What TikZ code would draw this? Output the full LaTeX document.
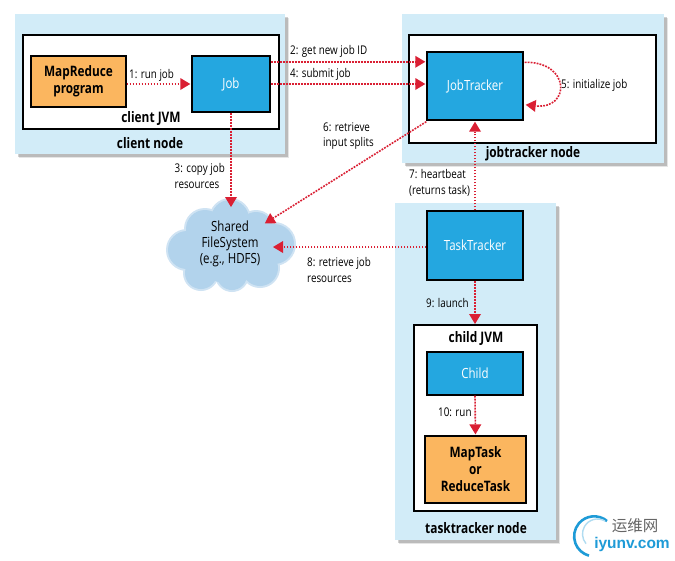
\documentclass[tikz,border=0pt]{standalone}
\usepackage{fontspec}
\setmainfont[FakeStretch=0.82]{Open Sans}
\newfontfamily\cjkfont{Noto Sans CJK SC}
\newfontfamily\logofont{Liberation Sans}
\usetikzlibrary{arrows.meta,calc}
\definecolor{nodebg}{HTML}{D2ECF8}
\definecolor{jvmblue}{HTML}{24A7E0}
\definecolor{progorange}{HTML}{FBB65F}
\definecolor{flowred}{HTML}{DA1F33}
\definecolor{cloudblue}{HTML}{B2D3EC}
\definecolor{cloudedge}{HTML}{CFE3F3}
\definecolor{logoblue}{HTML}{1E9BD7}
\tikzset{
  x=1pt,y=-1pt,
  whitebox/.style={draw=black,line width=1.4pt,fill=white},
  bluebox/.style={draw=black,line width=1.4pt,fill=jvmblue,text=white,font=\fontsize{14}{16}\selectfont,inner sep=0pt,align=center},
  orangebox/.style={draw=black,line width=1.2pt,fill=progorange,font=\fontsize{14.4}{17}\selectfont\bfseries,inner sep=0pt,align=center},
  title/.style={font=\fontsize{14.5}{16}\selectfont\bfseries,inner sep=0pt},
  lab/.style={font=\fontsize{12}{15.5}\selectfont,align=left,inner sep=0pt,anchor=west},
  flow/.style={draw=flowred,line width=1.6pt,dash pattern=on 1.8pt off 1.2pt,shorten >=1pt,
    -{Triangle[length=10pt,width=12pt,color=flowred,fill=flowred,line width=0pt,sep=0pt]}},
}
\newcommand{\shadowrect}[4]{%
  \fill[black,opacity=.10] (#1+4,#2+4) rectangle (#3+4,#4+4);
  \fill[black,opacity=.18] (#1+2.5,#2+2.5) rectangle (#3+2.5,#4+2.5);
  \fill[nodebg] (#1,#2) rectangle (#3,#4);}
\begin{document}
\begin{tikzpicture}
\useasboundingbox (0,0) rectangle (675,560);
\fill[white] (0,0) rectangle (675,560);
% node backgrounds
\shadowrect{15}{14}{285}{154}
\shadowrect{402}{14}{664}{163}
\shadowrect{395}{203}{556}{540}
% jvm frames
\draw[whitebox] (23,35) rectangle (279,129);
\draw[whitebox] (409,35) rectangle (656,143);
\draw[whitebox] (414,325) rectangle (537,511);
% cloud
\foreach \cx/\cy/\r in {230/219/21,205/229/21,187/250/21,201/273/18,232/275/17,260/268/20,274/244/22,256/229/19}
  \fill[cloudedge] (\cx,\cy) circle[radius=\r];
\foreach \cx/\cy/\r in {230/219/19,205/229/19,187/250/19,201/273/16,232/275/15,260/268/18,274/244/20,256/229/17}
  \fill[cloudblue] (\cx,\cy) circle[radius=\r];
\fill[cloudblue] (230,248) circle[radius=36];
% boxes
\node[orangebox,minimum width=95pt,minimum height=51pt] (prog) at (78.5,81.5) {MapReduce\\program};
\node[bluebox,minimum width=78pt,minimum height=56pt] (job) at (231,84) {Job};
\node[bluebox,minimum width=96pt,minimum height=68pt] (jt) at (475,86) {JobTracker};
\node[bluebox,minimum width=96pt,minimum height=69pt] (tt) at (475,245.5) {TaskTracker};
\node[bluebox,minimum width=96pt,minimum height=43pt] (child) at (475,373.5) {Child};
\node[orangebox,minimum width=101pt,minimum height=67pt] (task) at (475.5,469.5) {MapTask\\or\\ReduceTask};
\node[font=\fontsize{14}{16}\selectfont,align=center,inner sep=0pt] (fs) at (230,244) {Shared\\FileSystem\\(e.g., HDFS)};
% titles
\node[title] (t1) at (151,119) {client JVM};
\node[title] (t2) at (150,143) {client node};
\node[title] (t3) at (533,154) {jobtracker node};
\node[title] (t4) at (476,339) {child JVM};
\node[title] (t5) at (476,528) {tasktracker node};
% cloud anchor points
\coordinate (cloudtop) at (231,208);
\coordinate (cloudne) at (264,224);
\coordinate (cloudeast) at (272,247);
% connectors
\draw[flow] (prog.east |- job.center) -- (job.west);
\draw[flow] ([yshift=-6.5pt]job.north east) -- ([yshift=-10.5pt]jt.north west);
\draw[flow] (job.east) -- (jt.west |- job.east);
\draw[flow] (job.south) -- (cloudtop);
\draw[flow] ([yshift=-1pt]jt.south west) -- (cloudne);
\draw[flow] ([xshift=1pt,yshift=-11pt]jt.north east) .. controls +(46,-1) and +(46,5) .. ([xshift=1pt,yshift=16pt]jt.south east);
\draw[flow] (tt.north) -- (jt.south);
\draw[flow] (tt.west |- cloudeast) -- (cloudeast);
\draw[flow] (tt.south) -- (tt.south |- 0,325);
\draw[flow] (child.south) -- (task.north);
% labels
\node[lab] (l1) at (129,75) {1: run job};
\node[lab] (l2) at (290,51) {2: get new job ID};
\node[lab] (l4) at (290,74.5) {4: submit job};
\node[lab] (l5) at (561,85.5) {5: initialize job};
\node[lab] (l3) at (174.5,176) {3: copy job\\resources};
\node[lab] (l6) at (323,136) {6: retrieve\\input splits};
\node[lab] (l7) at (409,183) {7: heartbeat\\(returns task)};
\node[lab] (l8) at (307,270) {8: retrieve job\\resources};
\node[lab] (l9) at (426,303) {9: launch};
\node[lab] (l10) at (438,412) {10: run};
% watermark
\draw[logoblue,line width=2.6pt] (607,521) arc[start angle=-50,end angle=-255,radius=20];
\draw[logoblue!35,line width=1.4pt] (605,521) arc[start angle=-60,end angle=-220,radius=15];
\node[font=\cjkfont\fontsize{15.5}{17}\selectfont,text=black!60,inner sep=0pt] (w1) at (635,526) {运维网};
\node[font=\logofont\fontsize{15.5}{17}\selectfont\bfseries,text=logoblue,inner sep=0pt] (w2) at (632,544) {iyunv.com};
\end{tikzpicture}
\end{document}
